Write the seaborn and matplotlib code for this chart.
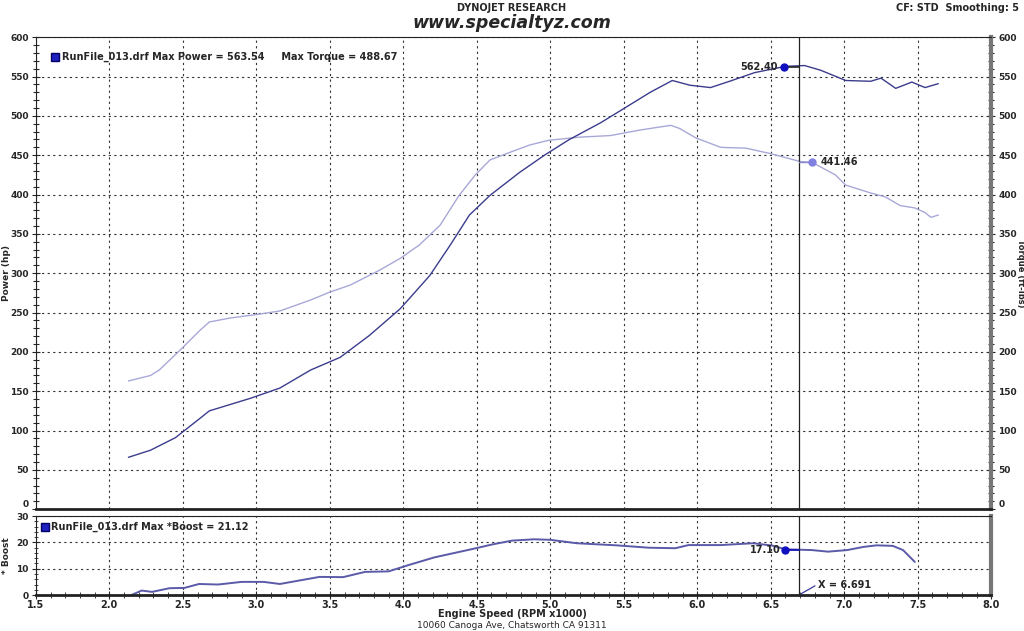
import numpy as np
import pandas as pd
import matplotlib
matplotlib.use("Agg")
import matplotlib.pyplot as plt
import seaborn as sns
from matplotlib.ticker import MultipleLocator

# ---- data ----
power_rpm = [2.13, 2.28, 2.45, 2.62, 2.68, 2.96, 3.16, 3.37, 3.57, 3.77, 3.98, 4.18, 4.32, 4.45,
             4.59, 4.79, 4.96, 5.13, 5.34, 5.48, 5.68, 5.83, 5.95, 6.09, 6.22, 6.39, 6.60, 6.73,
             6.84, 7.01, 7.18, 7.25, 7.35, 7.46, 7.55, 7.64]
power_hp = [66, 75, 91, 116, 125, 141, 154, 177, 193, 221, 255, 297, 336, 374,
            399, 428, 450, 470, 491, 507, 530, 545, 539, 536, 544, 555, 563, 564,
            558, 545, 544, 548, 535, 543, 536, 541]

torque_rpm = [2.13, 2.28, 2.34, 2.48, 2.62, 2.68, 2.82, 3.02, 3.16, 3.37, 3.50, 3.64, 3.84, 3.98,
              4.11, 4.25, 4.38, 4.49, 4.59, 4.73, 4.86, 4.99, 5.20, 5.41, 5.61, 5.82, 5.88,
              5.99, 6.16, 6.33, 6.50, 6.70, 6.78, 6.94, 7.01, 7.18, 7.28, 7.38, 7.48, 7.55,
              7.59, 7.64]
torque_ftlb = [163, 170, 177, 202, 228, 238, 243, 248, 252, 266, 276, 285, 304, 319,
               336, 361, 399, 425, 444, 454, 463, 469, 473, 475, 482, 488, 484,
               472, 460, 459, 452, 442, 441, 425, 412, 402, 397, 386, 383, 377,
               371, 374]

boost_rpm = [2.15, 2.22, 2.29, 2.41, 2.51, 2.61, 2.74, 2.90, 3.05, 3.16, 3.32, 3.43, 3.59, 3.74,
             3.90, 4.03, 4.21, 4.47, 4.61, 4.74, 4.89, 5.00, 5.18, 5.45, 5.67, 5.85, 5.94,
             6.16, 6.38, 6.51, 6.60, 6.78, 6.89, 7.02, 7.13, 7.22, 7.33, 7.40, 7.48]
boost_psi = [0, 1.7, 1.2, 2.6, 2.7, 4.2, 4.0, 5.0, 5.0, 4.2, 5.8, 6.9, 6.8, 8.8,
             9.0, 11.3, 14.3, 17.5, 19.3, 20.7, 21.2, 21.0, 19.7, 18.9, 18.0, 17.8, 19.0,
             19.0, 19.7, 18.8, 17.4, 17.1, 16.5, 17.1, 18.3, 18.9, 18.7, 17.1, 12.6]

cursor_x = 6.691
power_mark = (6.59, 562.40)
torque_mark = (6.78, 441.46)
boost_mark = (6.60, 17.10)

header_top = "DYNOJET RESEARCH"
header_site = "www.specialtyz.com"
header_right = "CF: STD  Smoothing: 5"
footer = "10060 Canoga Ave, Chatsworth CA 91311"
legend_top = "RunFile_013.drf Max Power = 563.54     Max Torque = 488.67"
legend_bot = "RunFile_013.drf Max *Boost = 21.12"

# ---- styling ----
sns.set_style("white")
plt.rcParams['font.family'] = ['DejaVu Sans']

power_col = "#3c3c8e"
torque_col = "#a8a8d8"
boost_col = "#5a5aa8"
TF = 6.5  # tick font size

fig = plt.figure(figsize=(10.24, 6.31), dpi=100)
ax1 = fig.add_axes([0.035, 0.193, 0.933, 0.748])
ax2 = fig.add_axes([0.035, 0.057, 0.933, 0.125], sharex=ax1)

df_p = pd.DataFrame({"rpm": power_rpm, "val": power_hp})
df_t = pd.DataFrame({"rpm": torque_rpm, "val": torque_ftlb})
df_b = pd.DataFrame({"rpm": boost_rpm, "val": boost_psi})

sns.lineplot(data=df_t, x="rpm", y="val", ax=ax1, color=torque_col, lw=1.0, sort=False)
sns.lineplot(data=df_p, x="rpm", y="val", ax=ax1, color=power_col, lw=1.0, sort=False)
sns.lineplot(data=df_b, x="rpm", y="val", ax=ax2, color=boost_col, lw=1.4, sort=False)

for ax in (ax1, ax2):
    ax.set_xlim(1.5, 8.0)
    ax.xaxis.set_major_locator(MultipleLocator(0.5))
    ax.xaxis.set_minor_locator(MultipleLocator(0.1))
    ax.grid(True, which='major', color='#333333', ls=(0, (2, 3)), lw=0.8)
    ax.set_xlabel("")
    ax.set_ylabel("")
    for s in ("left", "top"):
        ax.spines[s].set_color("#222222")
        ax.spines[s].set_linewidth(0.8)
    ax.spines["right"].set_color("#777777")
    ax.spines["right"].set_linewidth(3)
    ax.spines["bottom"].set_color("#222222")
    ax.spines["bottom"].set_linewidth(2)
    ax.axvline(cursor_x, color="#222222", lw=0.9)

ax1.set_ylim(0, 600)
ax1.yaxis.set_major_locator(MultipleLocator(50))
ax1.yaxis.set_minor_locator(MultipleLocator(10))
ax1.tick_params(axis='x', which='both', labelbottom=False, length=0)
ax1.tick_params(axis='y', which='both', left=True, right=True, labelleft=True, labelright=True,
                direction='inout', labelsize=TF, pad=2)
ax1.tick_params(axis='y', which='major', length=6, width=0.8)
ax1.tick_params(axis='y', which='minor', length=4, width=0.8)

ax2.set_ylim(0, 30)
ax2.yaxis.set_major_locator(MultipleLocator(10))
ax2.yaxis.set_minor_locator(MultipleLocator(2))
ax2.tick_params(axis='x', which='both', bottom=True, direction='inout', labelsize=TF + 0.5, pad=0.5)
ax2.tick_params(axis='x', which='major', length=6)
ax2.tick_params(axis='x', which='minor', length=4)
ax2.tick_params(axis='y', which='both', left=True, direction='inout', labelsize=TF, pad=2)
ax2.tick_params(axis='y', which='major', length=6)
ax2.tick_params(axis='y', which='minor', length=3)

fig.canvas.draw()
for t in ax1.yaxis.get_major_ticks() + ax2.yaxis.get_major_ticks() + ax2.xaxis.get_major_ticks():
    t.label1.set_fontweight('bold')
    t.label2.set_fontweight('bold')
for t in ax1.yaxis.get_major_ticks():
    if abs(t.get_loc()) < 1e-9:
        t.label1.set_va('bottom')
        t.label2.set_va('bottom')

# axis labels (placed as in the reference)
fig.text(0.006, 0.567, "Power (hp)", fontsize=6.5, fontweight='bold', rotation=90, ha='center', va='center')
fig.text(0.9962, 0.567, "Torque (ft-lbs)", fontsize=6, fontweight='bold', rotation=-90, ha='center', va='center')
fig.text(0.006, 0.12, "* Boost", fontsize=6.5, fontweight='bold', rotation=90, ha='center', va='center')
fig.text(0.5, 0.027, "Engine Speed (RPM x1000)", fontsize=7, fontweight='bold', ha='center', va='center')

# legends
ax1.plot([0.020], [0.958], marker='s', ms=6, color='#2020c0', mec='#000060', transform=ax1.transAxes, clip_on=False)
ax1.text(0.027, 0.958, legend_top, transform=ax1.transAxes, fontsize=7, fontweight='bold', va='center', ha='left')
ax2.plot([0.010], [0.86], marker='s', ms=6, color='#2020c0', mec='#000060', transform=ax2.transAxes, clip_on=False)
ax2.text(0.016, 0.86, legend_bot, transform=ax2.transAxes, fontsize=7, fontweight='bold', va='center', ha='left')

# cursor markers
ax1.plot([power_mark[0], cursor_x], [power_mark[1]] * 2, color="#222222", lw=1.2)
ax1.plot(*power_mark, marker='o', ms=5, color="#1010c0")
ax1.text(power_mark[0] - 0.04, power_mark[1], f"{power_mark[1]:.2f}", fontsize=7, fontweight='bold',
         ha='right', va='center')
ax1.plot([cursor_x, torque_mark[0]], [torque_mark[1]] * 2, color="#8888cc", lw=1.0)
ax1.plot(*torque_mark, marker='o', ms=5, color="#8080e0")
ax1.text(torque_mark[0] + 0.06, torque_mark[1], f"{torque_mark[1]:.2f}", fontsize=7, fontweight='bold',
         ha='left', va='center')
ax2.plot([boost_mark[0], cursor_x], [boost_mark[1]] * 2, color="#1010c0", lw=1.2)
ax2.plot(*boost_mark, marker='o', ms=5, color="#1010c0")
ax2.text(boost_mark[0] - 0.03, boost_mark[1], f"{boost_mark[1]:.2f}", fontsize=7, fontweight='bold',
         ha='right', va='center')
ax2.plot([cursor_x, cursor_x + 0.11], [0, 3.5], color="#3a3a9a", lw=0.9)
ax2.text(cursor_x + 0.13, 3.8, f"X = {cursor_x:.3f}", fontsize=7, fontweight='bold', ha='left', va='center')

# header / footer
fig.text(0.5, 0.988, header_top, fontsize=7, fontweight='bold', ha='center', va='center')
fig.text(0.5, 0.964, header_site, fontsize=12.5, fontweight='bold', style='italic', ha='center', va='center')
fig.text(0.995, 0.988, header_right, fontsize=7, fontweight='bold', ha='right', va='center')
fig.text(0.5, 0.002, footer, fontsize=6.5, ha='center', va='bottom')

fig.savefig("out.png", dpi=100)
